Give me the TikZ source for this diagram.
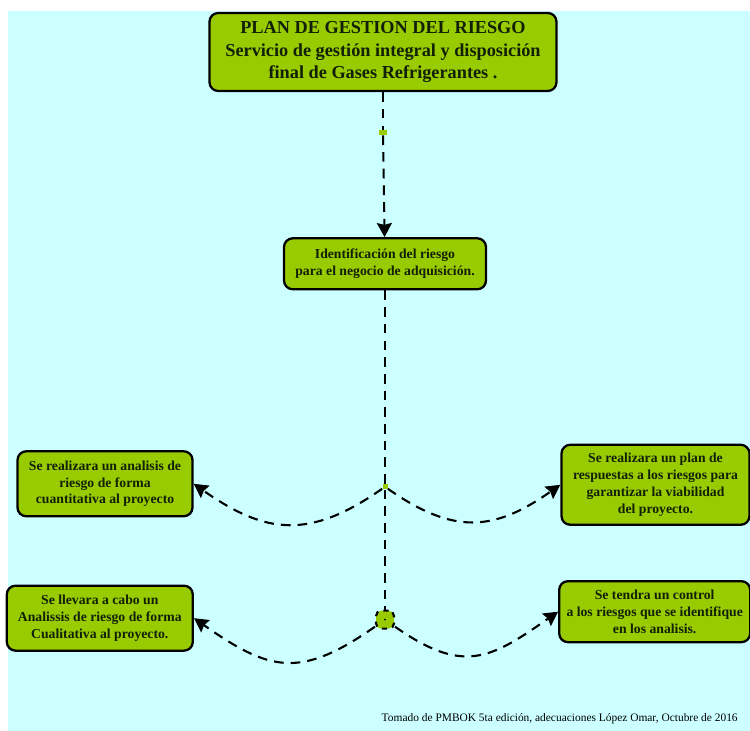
\documentclass[tikz,border=0pt]{standalone}
\usepackage{fontspec}
\setmainfont{Liberation Serif}
\usepackage{xcolor}
\usepackage{tikz}
\usetikzlibrary{arrows.meta, positioning, calc}
\definecolor{bgcyan}{RGB}{204, 255, 255}
\definecolor{boxgreen}{RGB}{153, 204, 0}
\definecolor{textdark}{RGB}{18, 32, 6}

\begin{document}
\begin{tikzpicture}[
    box/.style={draw, fill=boxgreen, rounded corners=5pt, line width=1.3pt, text=textdark, align=center, inner sep=2pt},
    boxtext/.style={font=\fontsize{7.8}{9.6}\selectfont\bfseries},
    dashline/.style={line width=1.2pt, dash pattern=on 5.5pt off 4pt},
    arrow/.style={dashline, -{Stealth[length=8pt, width=8.5pt, inset=1pt]}},
    knot/.style={draw=none, fill=boxgreen, minimum size=0.1cm, inner sep=0pt}
]
    % background and page size
    \useasboundingbox (0,0) rectangle (15,-14.62);
    \fill[bgcyan] (0.16,-0.22) rectangle (15,-14.62);

    % Nodes - main column
    \node[box, minimum width=6.94cm, minimum height=1.56cm, font=\fontsize{10.4}{12.6}\selectfont\bfseries] (title) at (7.66,-1.04)
        {PLAN DE GESTION DEL RIESGO\\Servicio de gestión integral y disposición\\final de Gases Refrigerantes .};
    \node[knot, minimum width=0.16cm, minimum height=0.09cm, below=0.76cm of title] (mark) {};
    \node[box, boxtext, minimum width=4.04cm, minimum height=1.02cm, below=2.9cm of title, xshift=0.04cm] (ident)
        {Identificación del riesgo\\para el negocio de adquisición.};
    \node[knot, below=3.87cm of ident] (jone) {};
    \node[knot, draw, dash pattern=on 3pt off 3pt, line width=1.2pt, rounded corners=3pt, minimum size=0.36cm, below=2.4cm of jone] (jtwo) {};
    \fill[black] (jtwo) circle (0.6pt);

    % Nodes - side boxes
    \node[box, boxtext, minimum width=3.5cm, minimum height=1.3cm, left=3.77cm of jone, yshift=0.06cm] (quanti)
        {Se realizara un analisis de\\riesgo de forma\\cuantitativa al proyecto};
    \node[box, boxtext, minimum width=3.76cm, minimum height=1.6cm, right=3.45cm of jone, yshift=0.04cm] (respuesta)
        {Se realizara un plan de\\respuestas a los riesgos para\\garantizar la viabilidad\\del proyecto.};
    \node[box, boxtext, minimum width=3.72cm, minimum height=1.3cm, left=3.62cm of jtwo, yshift=0.03cm] (quali)
        {Se llevara a cabo un\\Analissis de riesgo de forma\\Cualitativa al proyecto.};
    \node[box, boxtext, minimum width=3.82cm, minimum height=1.22cm, right=3.26cm of jtwo, yshift=0.16cm] (control)
        {Se tendra un control\\a los riesgos que se identifique\\en los analisis.};

    % Arrows
    \draw[dashline] (title) -- (mark);
    \draw[arrow] (mark) -- (ident);
    \draw[dashline] (ident) -- (jone);
    \draw[dashline] (jone) -- (jtwo);
    \draw[arrow] (jone) to[out=215, in=-35, looseness=1.2] (quanti.east);
    \draw[arrow] (jone) to[out=-35, in=215, looseness=1.2] (respuesta.west);
    \draw[arrow] (jtwo) to[out=215, in=-35, looseness=1.3] (quali.east);
    \draw[arrow] (jtwo) to[out=-35, in=215, looseness=1.3] (control.west);

    % Source note
    \node[anchor=base east, font=\fontsize{6.5}{8}\selectfont, inner sep=0pt] (note) at (14.76,-14.44)
        {Tomado de PMBOK 5ta edición, adecuaciones López Omar, Octubre de 2016};
\end{tikzpicture}
\end{document}
